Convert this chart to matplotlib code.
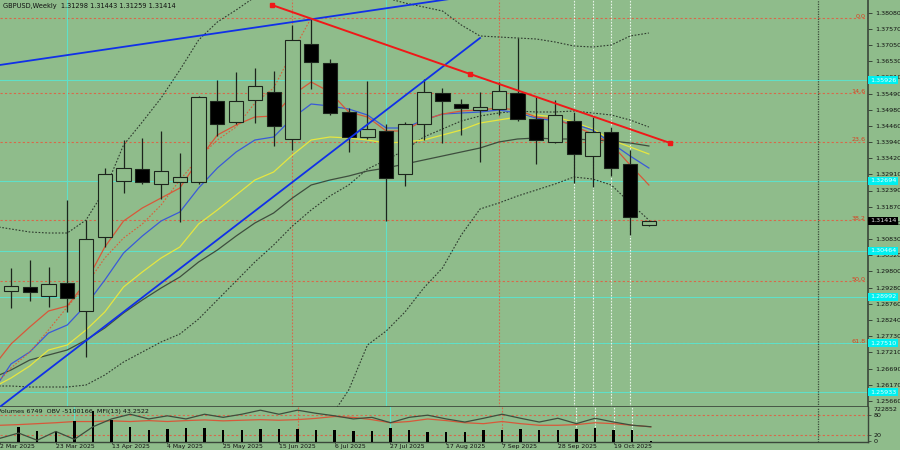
import matplotlib
matplotlib.use("Agg")
import matplotlib.pyplot as plt
import matplotlib.transforms as mtransforms
from matplotlib.patches import Rectangle
import numpy as np

BG = '#8FBC8B'
INK = '#1c241c'

# ---------------- data ----------------
title_text = "GBPUSD,Weekly  1.31298 1.31443 1.31259 1.31414"
ind_text = "Volumes 6749  OBV -5100166  MFI(13) 43.2522"

# weekly candles (index 0 = 9 Mar 2025 ... 34 = 2 Nov 2025)
opens = [1.29184, 1.29292, 1.29024, 1.29440, 1.28534, 1.30892, 1.32704, 1.33068, 1.32598, 1.32652,
         1.32672, 1.35244, 1.34592, 1.35296, 1.35542, 1.34028, 1.37068, 1.36460, 1.34892, 1.34112,
         1.34294, 1.32908, 1.34508, 1.35500, 1.35148, 1.34956, 1.34988, 1.35520, 1.34678, 1.33952,
         1.34624, 1.33504, 1.34272, 1.33238, 1.31298]
highs = [1.29900, 1.30166, 1.29932, 1.32086, 1.31446, 1.33110, 1.34006, 1.34070, 1.34294, 1.33600,
         1.35414, 1.35926, 1.36172, 1.36320, 1.36214, 1.37686, 1.37878, 1.36588, 1.35030, 1.35894,
         1.34508, 1.34572, 1.35948, 1.35660, 1.35318, 1.35552, 1.35872, 1.37280, 1.35392, 1.35286,
         1.34912, 1.34732, 1.34432, 1.33686, 1.31443]
lows = [1.28620, 1.28864, 1.28672, 1.28512, 1.27072, 1.30592, 1.32320, 1.32598, 1.32118, 1.31392,
        1.32598, 1.34144, 1.34508, 1.34560, 1.33824, 1.33686, 1.35628, 1.34806, 1.33632, 1.34028,
        1.31424, 1.32534, 1.34006, 1.33900, 1.34166, 1.33312, 1.34806, 1.34624, 1.33238, 1.33910,
        1.32620, 1.32492, 1.32864, 1.30966, 1.31259]
closes = [1.29344, 1.29152, 1.29398, 1.28960, 1.30838, 1.32918, 1.33100, 1.32672, 1.33024, 1.32812,
          1.35372, 1.34518, 1.35254, 1.35724, 1.34464, 1.37196, 1.36502, 1.34880, 1.34092, 1.34358,
          1.32780, 1.34508, 1.35532, 1.35264, 1.35020, 1.35072, 1.35564, 1.34678, 1.34006, 1.34796,
          1.33558, 1.34252, 1.33100, 1.31532, 1.31414]

# indicator lines, index -1 .. 34
ma_red = [1.26710, 1.27478, 1.28022, 1.28534, 1.28694, 1.29462, 1.30582, 1.31414, 1.31830, 1.32150,
          1.32470, 1.33366, 1.34166, 1.34486, 1.34742, 1.34774, 1.35446, 1.35862, 1.35542, 1.34902,
          1.34742, 1.34294, 1.34294, 1.34646, 1.34838, 1.34934, 1.34966, 1.35030, 1.34966, 1.34742,
          1.34678, 1.34454, 1.34198, 1.33878, 1.33206, 1.32566]
ma_red_dot = [1.26070, 1.26710, 1.27222, 1.27926, 1.28662, 1.29366, 1.30230, 1.30870, 1.31318, 1.31926,
              1.32726, 1.33430, 1.34006, 1.34422, 1.35190, 1.35670, 1.36822, 1.37910]  # index -1 .. 16
ma_blue = [1.25942, 1.26838, 1.27222, 1.27830, 1.28086, 1.28726, 1.29526, 1.30390, 1.30934, 1.31414,
           1.31702, 1.32470, 1.33110, 1.33622, 1.34006, 1.34102, 1.34710, 1.35158, 1.35094, 1.34998,
           1.34806, 1.34390, 1.34390, 1.34646, 1.34838, 1.34870, 1.34902, 1.34966, 1.34870, 1.34710,
           1.34614, 1.34518, 1.34326, 1.33910, 1.33494, 1.33110]
ma_yellow = [1.26070, 1.26390, 1.26774, 1.27286, 1.27446, 1.27926, 1.28502, 1.29302, 1.29782, 1.30230,
             1.30582, 1.31318, 1.31766, 1.32246, 1.32726, 1.32982, 1.33526, 1.34006, 1.34102, 1.34070,
             1.34006, 1.33910, 1.33942, 1.34006, 1.34166, 1.34326, 1.34550, 1.34646, 1.34742, 1.34806,
             1.34742, 1.34582, 1.34358, 1.34006, 1.33782, 1.33558]
ma_gray = [1.26390, 1.26646, 1.26966, 1.27126, 1.27286, 1.27606, 1.27990, 1.28470, 1.28886, 1.29270,
           1.29622, 1.30102, 1.30486, 1.30934, 1.31350, 1.31670, 1.32150, 1.32566, 1.32726, 1.32854,
           1.33014, 1.33110, 1.33238, 1.33366, 1.33494, 1.33622, 1.33750, 1.33942, 1.34038, 1.34070,
           1.34038, 1.34038, 1.34006, 1.33974, 1.33910, 1.33814]
band_inner = [1.26134, 1.26134, 1.26102, 1.26102, 1.26102, 1.26166, 1.26486, 1.26902, 1.27222, 1.27542,
              1.27798, 1.28278, 1.28886, 1.29494, 1.30102, 1.30646, 1.31254, 1.31766, 1.32214, 1.32566,
              1.33078, 1.33366, 1.33686, 1.34102, 1.34358, 1.34614, 1.34774, 1.34870, 1.34934, 1.34902,
              1.34902, 1.34934, 1.34870, 1.34806, 1.34646, 1.34422]
band_upper = [1.31254, 1.31158, 1.31062, 1.31030, 1.31030, 1.31446, 1.32406, 1.33846, 1.34582, 1.35350,
              1.36246, 1.37206, 1.37782, 1.38166, 1.38582, 1.38966, 1.39286, 1.39446, 1.39446, 1.39286,
              1.38966, 1.38550, 1.38390, 1.38262, 1.38134, 1.37686, 1.37334, 1.37302, 1.37270, 1.37238,
              1.37142, 1.37014, 1.36982, 1.37046, 1.37334, 1.37430]
band_lower = [1.24086, 1.25110, 1.26006, 1.27446, 1.27894, 1.28502, 1.29270, 1.29910, 1.30966, 1.31798,
              1.31990, 1.32214, 1.32406, 1.32598, 1.32822, 1.32758, 1.32566, 1.31990, 1.31446]  # index 16 .. 34

volumes = [297000, 224000, 224000, 422000, 640000, 455000, 303000, 244000, 257000, 277000,
           277000, 238000, 238000, 257000, 257000, 271000, 238000, 232000, 224000, 224000,
           277000, 238000, 204000, 192000, 204000, 238000, 232000, 257000, 232000, 238000,
           257000, 291000, 244000, 252000, 6749]
obv = [-5715166, -5435166, -5820166, -5350166, -5770166, -5100166, -4685166, -4435166, -4685166, -4520166,
       -4685166, -4435166, -4600166, -4435166, -4220166, -4435166, -4220166, -4385166, -4520166, -4685166,
       -4600166, -4885166, -4600166, -4485166, -4685166, -4850166, -4650166, -4435166, -4650166, -4850166,
       -4650166, -4935166, -4650166, -4850166, -5020166, -5100166]
mfi = [47.9, 49.9, 52.7, 55.5, 59.1, 59.1, 61.1, 59.1, 61.9, 59.1, 61.9, 63.9, 61.1, 63.0, 64.7, 63.0,
       64.7, 68.6, 74.2, 71.4, 64.7, 55.5, 59.1, 66.7, 61.9, 55.5, 52.7, 59.1, 52.7, 47.9, 47.9, 49.9,
       55.5, 52.7, 47.9, 43.25]

date_labels = ["2 Mar 2025", "23 Mar 2025", "13 Apr 2025", "4 May 2025", "25 May 2025", "15 Jun 2025",
               "6 Jul 2025", "27 Jul 2025", "17 Aug 2025", "7 Sep 2025", "28 Sep 2025", "19 Oct 2025"]
date_bars = [-1, 2, 5, 8, 11, 14, 17, 20, 23, 26, 29, 32]

price_ticks = [1.38080, 1.37570, 1.37050, 1.36530, 1.36010, 1.35490, 1.34980, 1.34460, 1.33940, 1.33420,
               1.32910, 1.32390, 1.31870, 1.31350, 1.30830, 1.30320, 1.29800, 1.29280, 1.28760, 1.28240,
               1.27730, 1.27210, 1.26690, 1.26170, 1.25660]

fib_levels = [1.37901, 1.35501, 1.33958, 1.31446, 1.29494, 1.27510]
fib_names = ["0.0", "14.6", "23.6", "38.2", "50.0", "61.8"]
cyan_levels = [1.35926, 1.32694, 1.30464, 1.28992, 1.27510, 1.25933]
current_price = 1.31414

red_vlines = [15, 26]
cyan_vlines = [3, 20]
white_vlines = [30, 31, 32, 33]
dark_vlines = [43]

# trend lines: (bar, price) pairs
blue_line_1 = ([-0.6, 26.1], [1.36406, 1.38758])
blue_line_2 = ([-0.6, 25.0], [1.25462, 1.37270])
red_line = ([13.91, 24.47, 35.13], [1.38326, 1.36118, 1.33910])

# ---------------- figure ----------------
W, H = 900, 450
fig = plt.figure(figsize=(9, 4.5), dpi=100, facecolor=BG)
ax = fig.add_axes([0, 43 / H, 868 / W, 407 / H], facecolor=BG)
axi = fig.add_axes([0, 8.5 / H, 868 / W, 34.5 / H], facecolor=BG)

XL = (-0.586, 45.68)
ax.set_xlim(*XL)
ax.set_ylim(1.25462, 1.38486)

# horizontal levels
for p in fib_levels:
    ax.axhline(p, color='#d8684a', lw=0.8, ls=(0, (2, 2)), zorder=1)
for p in cyan_levels:
    ax.axhline(p, color='#5fe0c8', lw=0.8, zorder=1)
for nm, p in zip(fib_names, fib_levels):
    ax.text(45.55, p + 0.0005, nm, ha='right', va='center', color='#d84020', fontsize=4.6, zorder=6)

# vertical lines on both panels
for a in (ax, axi):
    for v in red_vlines:
        a.axvline(v, color='#d8684a', lw=0.8, ls=(0, (1.5, 1.5)), zorder=1)
    for v in cyan_vlines:
        a.axvline(v, color='#5fe0c8', lw=0.8, zorder=1)
    for v in white_vlines:
        a.axvline(v, color='#e8f4e8', lw=0.8, ls=(0, (1.5, 1.2)), zorder=1)
    for v in dark_vlines:
        a.axvline(v, color='#3a4a3a', lw=0.9, ls=(0, (1, 1)), zorder=1)

xi = np.arange(-1, 35)
xc = np.arange(35)

# indicator lines
ax.plot(xi, band_upper, color='#2e3a2e', lw=0.8, ls=(0, (1.5, 1.5)), zorder=2)
ax.plot(np.arange(16, 35), band_lower, color='#2e3a2e', lw=0.8, ls=(0, (1.5, 1.5)), zorder=2)
ax.plot(xi, band_inner, color='#2e3a2e', lw=0.8, ls=(0, (1.5, 1.5)), zorder=2)
ax.plot(xi, ma_gray, color='#3e4e3e', lw=0.9, zorder=2)
ax.plot(xi, ma_yellow, color='#e6e640', lw=0.9, zorder=2)
ax.plot(xi, ma_blue, color='#3a5ad8', lw=0.9, zorder=2)
ax.plot(np.arange(-1, 17), ma_red_dot, color='#d8603a', lw=0.8, ls=(0, (1.5, 1.5)), zorder=2)
ax.plot(xi, ma_red, color='#d8583a', lw=0.9, zorder=2)

# candles
bw = 0.76
for i, o, h, l, c in zip(xc, opens, highs, lows, closes):
    ax.vlines(i, l, h, color=INK, lw=0.9, zorder=3)
    bull = c >= o
    ax.add_patch(Rectangle((i - bw / 2, min(o, c)), bw, max(abs(c - o), 0.00008),
                           facecolor=BG if bull else 'black', edgecolor=INK, lw=0.8, zorder=4))

# trend lines
ax.plot(*blue_line_1, color='#1030e8', lw=1.3, zorder=5)
ax.plot(*blue_line_2, color='#1030e8', lw=1.3, zorder=5)
ax.plot(red_line[0], red_line[1], color='#f01818', lw=1.4, zorder=5)
ax.plot(red_line[0], red_line[1], ls='none', marker='s', ms=2.2, mfc='#f01818', mec='#f01818', zorder=5)

# axes styling (main)
for s in ('left', 'top'):
    ax.spines[s].set_visible(False)
ax.spines['right'].set_color('#3a463a')
ax.spines['right'].set_linewidth(1.2)
ax.spines['bottom'].set_color('#3a463a')
ax.spines['bottom'].set_linewidth(1.2)
ax.set_xticks([])
ax.yaxis.tick_right()
ax.set_yticks(price_ticks)
ax.set_yticklabels([f"{t:.5f}" for t in price_ticks])
ax.tick_params(axis='y', direction='out', length=3, width=0.7, labelsize=4.6, pad=2,
               colors='#3a463a', labelcolor='#111111')

btr = mtransforms.blended_transform_factory(ax.transAxes, ax.transData)
for p in cyan_levels:
    ax.text(1.0 + 2 / 868, p, f"{p:.5f}", transform=btr, ha='left', va='center', fontsize=4.6,
            color='#e8ffff', clip_on=False, zorder=7,
            bbox=dict(boxstyle='square,pad=0.25', fc='#00f0f0', ec='none'))
ax.text(1.0 + 2 / 868, current_price, f"{current_price:.5f}", transform=btr, ha='left', va='center',
        fontsize=4.6, color='#dddddd', clip_on=False, zorder=7,
        bbox=dict(boxstyle='square,pad=0.25', fc='black', ec='none'))

ax.text(3 / 868, 1 - 3 / 407, title_text, transform=ax.transAxes, ha='left', va='top',
        fontsize=4.8, color='#111111', zorder=8)

# ---------------- indicator panel ----------------
axi.set_xlim(*XL)
axi.set_ylim(-0.56, 102.5)
axi.axhline(80, color='#d8684a', lw=0.8, ls=(0, (2, 2)), zorder=1)
axi.axhline(20, color='#d8684a', lw=0.8, ls=(0, (2, 2)), zorder=1)

axv = axi.twinx()
axv.set_ylim(0, 726800)
axv.bar(xc, volumes, width=0.13, color='black', zorder=3)
axv.set_xlim(*XL)
axv.axis('off')

axo = axi.twinx()
axo.set_ylim(-5885166, -4050166)
axo.plot(xi, obv, color='#3e4e3e', lw=0.9, zorder=4)
axo.set_xlim(*XL)
axo.axis('off')

axi.plot(xi, mfi, color='#d8583a', lw=0.9, zorder=5)

for s in ('left', 'top'):
    axi.spines[s].set_visible(False)
for s in ('right', 'bottom'):
    axi.spines[s].set_color('#3a463a')
    axi.spines[s].set_linewidth(1.0)
axi.yaxis.tick_right()
axi.set_yticks([80, 20, 0])
axi.set_yticklabels(['80', '20', '0'])
axi.tick_params(axis='y', direction='out', length=2, width=0.6, labelsize=4.6, pad=2,
                colors='#3a463a', labelcolor='#111111')
axi.text(1.0 + 5 / 868, 0.92, "722852", transform=axi.transAxes, ha='left', va='center',
         fontsize=4.6, color='#111111', clip_on=False)

axi.set_xticks(date_bars)
axi.set_xticklabels(date_labels)
axi.tick_params(axis='x', direction='out', length=1.5, width=0.6, labelsize=4.4, pad=0.3,
                colors='#3a463a', labelcolor='#111111')
for lbl in axi.get_xticklabels():
    lbl.set_ha('left')

axi.text(-3 / 868, 1 - 2 / 34.5, ind_text, transform=axi.transAxes, ha='left', va='top',
         fontsize=4.6, color='#111111', zorder=8)

fig.savefig("out.png", dpi=100, facecolor=BG)
